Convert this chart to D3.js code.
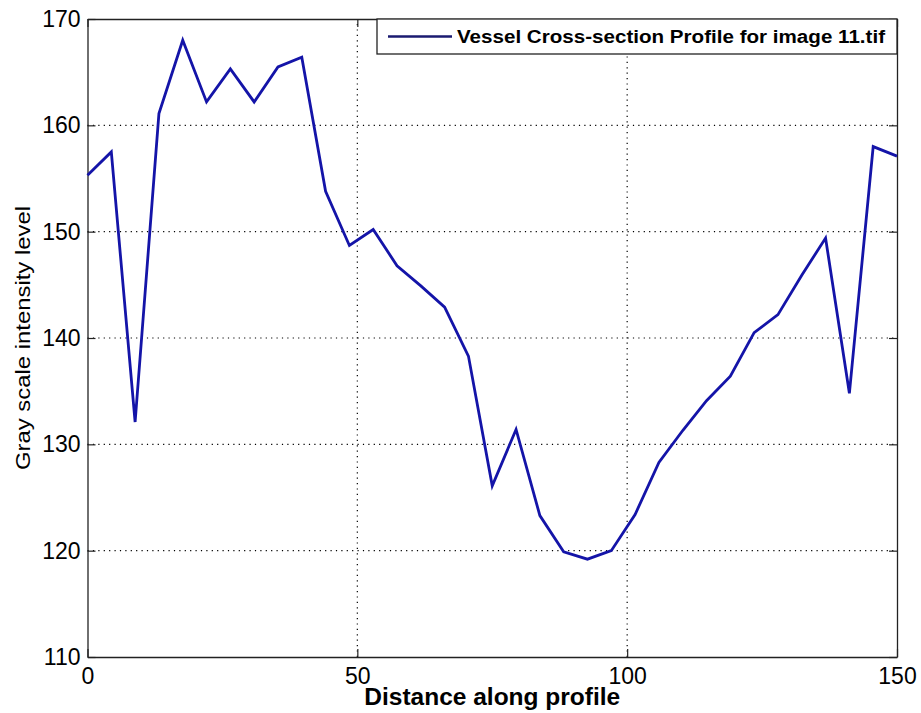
<!DOCTYPE html>
<html>
<head>
<meta charset="utf-8">
<script src="https://cdn.jsdelivr.net/npm/d3@7"></script>
<style>
  html, body { margin: 0; padding: 0; background: #fff; }
  svg { display: block; }
  text { font-family: Arial, "Liberation Sans", Helvetica, sans-serif; fill: #000; }
</style>
</head>
<body>
<svg id="chart" width="921" height="713"></svg>
<script>
// Gray-level profile sampled across the vessel (35 samples over 150 px)
const sampleCount = 35;
const profileLength = 150;
const intensity = [
  155.3, 157.5, 132.1, 161.1, 168.0, 162.2, 165.3, 162.2, 165.5, 166.4,
  153.8, 148.7, 150.2, 146.8, 144.9, 142.9, 138.3, 126.1, 131.4, 123.3,
  119.9, 119.2, 120.0, 123.4, 128.3, 131.3, 134.1, 136.4, 140.5, 142.2,
  145.9, 149.4, 134.8, 158.0, 157.1
];
const xTicks = [0, 50, 100, 150];
const yTicks = [110, 120, 130, 140, 150, 160, 170];
const seriesName = "Vessel Cross-section Profile for image 11.tif";
const xLabel = "Distance along profile";
const yLabel = "Gray scale intensity level";

const distance = intensity.map((_, i) => i * profileLength / (sampleCount - 1));
const points = intensity.map((v, i) => ({ x: distance[i], y: v }));

const margin = { left: 87.5, right: 24, top: 19, bottom: 56 };
const W = 921, H = 713;
const svg = d3.select("#chart");

const x = d3.scaleLinear().domain([0, 150]).range([margin.left, W - margin.right]);
const y = d3.scaleLinear().domain([110, 170]).range([H - margin.bottom, margin.top]);
const lineColor = "#1414a8";

// dotted grid
const grid = svg.append("g");
grid.selectAll("line.gx").data(xTicks.filter(t => t > 0 && t < 150)).join("line")
  .attr("x1", d => x(d)).attr("x2", d => x(d))
  .attr("y1", y(110)).attr("y2", y(170))
  .attr("stroke", "#000").attr("stroke-width", 1.2)
  .attr("stroke-dasharray", "1.2,4.2");
grid.selectAll("line.gy").data(yTicks.filter(t => t > 110 && t < 170)).join("line")
  .attr("x1", x(0)).attr("x2", x(150))
  .attr("y1", d => y(d)).attr("y2", d => y(d))
  .attr("stroke", "#000").attr("stroke-width", 1.2)
  .attr("stroke-dasharray", "1.2,4.2");

// axes: ticks point inward on all four sides
const tickLen = 8;
const fontSize = "23px";
const axisBottomG = svg.append("g").attr("transform", `translate(0,${y(110)})`)
  .call(d3.axisBottom(x).tickValues(xTicks).tickSizeInner(-tickLen).tickSizeOuter(0).tickPadding(11));
const axisTopG = svg.append("g").attr("transform", `translate(0,${y(170)})`)
  .call(d3.axisTop(x).tickValues(xTicks).tickSizeInner(-tickLen).tickSizeOuter(0).tickFormat(""));
const axisLeftG = svg.append("g").attr("transform", `translate(${x(0)},0)`)
  .call(d3.axisLeft(y).tickValues(yTicks).tickSizeInner(-tickLen).tickSizeOuter(0).tickPadding(7));
const axisRightG = svg.append("g").attr("transform", `translate(${x(150)},0)`)
  .call(d3.axisRight(y).tickValues(yTicks).tickSizeInner(-tickLen).tickSizeOuter(0).tickFormat(""));

[axisBottomG, axisTopG, axisLeftG, axisRightG].forEach(g => {
  g.select(".domain").attr("stroke", "#222").attr("stroke-width", 1.3);
  g.selectAll(".tick line").attr("stroke", "#222").attr("stroke-width", 1.2);
  g.selectAll(".tick text").style("font-size", fontSize).attr("fill", "#000");
});
axisBottomG.selectAll(".tick text").attr("dy", "0.68em");

// profile line
svg.append("path")
  .datum(points)
  .attr("fill", "none")
  .attr("stroke", lineColor)
  .attr("stroke-width", 2.8)
  .attr("stroke-linejoin", "miter")
  .attr("d", d3.line().x(d => x(d.x)).y(d => y(d.y)));

// axis titles
svg.append("text")
  .attr("x", (x(0) + x(150)) / 2).attr("y", 705)
  .attr("text-anchor", "middle")
  .style("font-size", "23px").style("font-weight", "bold")
  .attr("textLength", 256).attr("lengthAdjust", "spacingAndGlyphs")
  .text(xLabel);
svg.append("text")
  .attr("transform", `translate(30,${(y(110) + y(170)) / 2}) rotate(-90)`)
  .attr("text-anchor", "middle")
  .style("font-size", "21px")
  .attr("textLength", 264).attr("lengthAdjust", "spacingAndGlyphs")
  .text(yLabel);

// legend
const lg = svg.append("g");
lg.append("rect")
  .attr("x", 377).attr("y", y(170)).attr("width", x(150) - 377).attr("height", 35)
  .attr("fill", "#fff").attr("stroke", "#222").attr("stroke-width", 1.3);
lg.append("line")
  .attr("x1", 388).attr("x2", 452).attr("y1", y(170) + 17.5).attr("y2", y(170) + 17.5)
  .attr("stroke", "#1a1a70").attr("stroke-width", 2.6);
lg.append("text")
  .attr("x", 457).attr("y", y(170) + 24)
  .style("font-size", "18px").style("font-weight", "bold")
  .attr("textLength", 428).attr("lengthAdjust", "spacingAndGlyphs")
  .text(seriesName);
</script>
</body>
</html>
